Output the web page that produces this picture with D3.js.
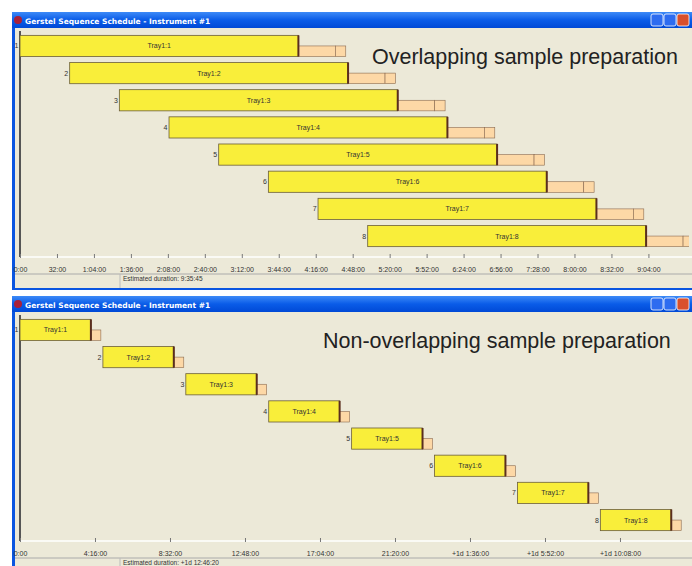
<!DOCTYPE html>
<html><head><meta charset="utf-8">
<script src="https://cdn.jsdelivr.net/npm/d3@7"></script>
<style>body{margin:0;background:#fff}svg{display:block}</style>
</head><body>
<script>
// sample numbers and labels
var samples = [1, 2, 3, 4, 5, 6, 7, 8];
var trays = ["Tray1:1","Tray1:2","Tray1:3","Tray1:4","Tray1:5","Tray1:6","Tray1:7","Tray1:8"];
// overlapping schedule (minutes)
var overStarts = [0, 43, 86, 129, 172, 215, 258, 301];
var overRun = 241;
var overPrep = [32, 9];
var overTicks = [0,32,64,96,128,160,192,224,256,288,320,352,384,416,448,480,512,544];
// non-overlapping schedule (minutes)
var seqStarts = [0, 283, 566, 849, 1132, 1415, 1698, 1981];
var seqRun = 242;
var seqPrep = [34];
var seqTicks = [0,256,512,768,1024,1280,1536,1792,2048];

var svg = d3.select("body").append("svg").attr("width", 692).attr("height", 566);
var defs = svg.append("defs");

function fmt(m) {
  if (m === 0) return "0:00";
  var d = Math.floor(m / 1440), r = m - d * 1440;
  var h = Math.floor(r / 60), mm = r % 60;
  var s = (h > 0 ? h + ":" + String(mm).padStart(2, "0") : mm) + ":00";
  return d > 0 ? "+" + d + "d " + s : s;
}

function panel(top, title, starts, run, prep, ticks, dmax, est) {
  var g = svg.append("g").attr("transform", "translate(0," + top + ")");
  // window frame
  g.append("rect").attr("x", 12).attr("y", 0).attr("width", 682).attr("height", 278).attr("fill", "#0a55e0");
  var grad = defs.append("linearGradient").attr("id", "tb" + top).attr("x1", 0).attr("y1", 0).attr("x2", 0).attr("y2", 1);
  grad.append("stop").attr("offset", 0).attr("stop-color", "#3d8af7");
  grad.append("stop").attr("offset", 0.5).attr("stop-color", "#0a5ce8");
  grad.append("stop").attr("offset", 1).attr("stop-color", "#0049d6");
  defs.append("clipPath").attr("id", "cl" + top).append("rect").attr("x", 15).attr("y", 16).attr("width", 674).attr("height", 260);
  g.append("rect").attr("x", 12).attr("y", 0).attr("width", 682).attr("height", 16).attr("fill", "url(#tb" + top + ")");
  g.append("circle").attr("cx", 18).attr("cy", 8).attr("r", 4).attr("fill", "#a8203a");
  g.append("text").attr("x", 25).attr("y", 11.5).attr("fill", "#fff").attr("font-family", "DejaVu Sans").attr("font-weight", "bold")
    .attr("font-size", 7.5).text("Gerstel Sequence Schedule - Instrument #1");
  [["#2d6cf0", 657], ["#2d6cf0", 670], ["#d9502c", 683]].forEach(function (b) {
    g.append("rect").attr("x", b[1] - 6).attr("y", 2).attr("width", 12).attr("height", 12).attr("rx", 2)
      .attr("fill", b[0]).attr("stroke", "#fff").attr("stroke-width", 0.8);
  });
  g.append("rect").attr("x", 15).attr("y", 16).attr("width", 677).attr("height", 260).attr("fill", "#ece9d8");

  var x = d3.scaleLinear().domain([0, dmax]).range([20, 690]);
  var y = d3.scaleBand().domain(samples).range([22, 236]).paddingInner(0.22).paddingOuter(0.05);
  var bh = y.bandwidth();
  var c = g.append("g").attr("clip-path", "url(#cl" + top + ")");

  c.append("line").attr("x1", 20).attr("x2", 20).attr("y1", 19).attr("y2", 245).attr("stroke", "#555").attr("stroke-width", 2);

  samples.forEach(function (s, i) {
    var t0 = starts[i], yy = y(s);
    var px = x(t0 + run);
    prep.forEach(function (p) {
      c.append("rect").attr("x", px).attr("y", yy + bh / 2).attr("width", x(p) - x(0)).attr("height", bh / 2)
        .attr("fill", "#fdd8a6").attr("stroke", "#8a6a50").attr("stroke-width", 0.6);
      px += x(p) - x(0);
    });
    c.append("rect").attr("x", x(t0)).attr("y", yy).attr("width", x(t0 + run) - x(t0)).attr("height", bh)
      .attr("fill", "#f9ee3a").attr("stroke", "#6b5e3a").attr("stroke-width", 0.8);
    c.append("line").attr("x1", x(t0 + run)).attr("x2", x(t0 + run)).attr("y1", yy).attr("y2", yy + bh)
      .attr("stroke", "#5a2e1e").attr("stroke-width", 2);
    c.append("text").attr("x", (x(t0) + x(t0 + run)) / 2).attr("y", yy + bh / 2 + 2.5).attr("text-anchor", "middle")
      .attr("font-family", "Liberation Sans Narrow, Liberation Sans").attr("font-size", 7).attr("fill", "#333").text(trays[i]);
    c.append("text").attr("x", x(t0) - 1.5).attr("y", yy + bh / 2 + 2.5).attr("text-anchor", "end")
      .attr("font-family", "Liberation Sans").attr("font-size", 7).attr("fill", "#333").text(s);
  });

  var ax = g.append("g").attr("transform", "translate(0,245)")
    .call(d3.axisBottom(x).tickValues(ticks).tickSize(4).tickFormat(function (d) { return fmt(d); }));
  ax.select(".domain").attr("stroke", "#fff").attr("stroke-width", 1.5).attr("d", "M20,0H692");
  ax.selectAll(".tick line").attr("stroke", "#777").attr("y1", -3).attr("y2", 1);
  ax.selectAll(".tick text").attr("y", 10).attr("font-family", "Liberation Sans Narrow, Liberation Sans")
    .attr("font-size", 7).attr("fill", "#333");
  g.append("line").attr("x1", 15).attr("x2", 692).attr("y1", 262).attr("y2", 262).attr("stroke", "#aaa");
  g.append("line").attr("x1", 120).attr("x2", 120).attr("y1", 262).attr("y2", 276).attr("stroke", "#bbb");
  g.append("text").attr("x", 123).attr("y", 269).attr("font-family", "Liberation Sans Narrow, Liberation Sans")
    .attr("font-size", 6.5).attr("fill", "#333").text("Estimated duration: " + est);
  g.append("text").attr("x", title.x).attr("y", 52).attr("font-family", "Liberation Sans").attr("font-size", 21.5)
    .attr("fill", "#222").text(title.t);
}

panel(12, {t: "Overlapping sample preparation", x: 372}, overStarts, overRun, overPrep, overTicks, 580, "9:35:45");
panel(296, {t: "Non-overlapping sample preparation", x: 323}, seqStarts, seqRun, seqPrep, seqTicks, 2287, "+1d 12:46:20");
</script>
</body></html>
